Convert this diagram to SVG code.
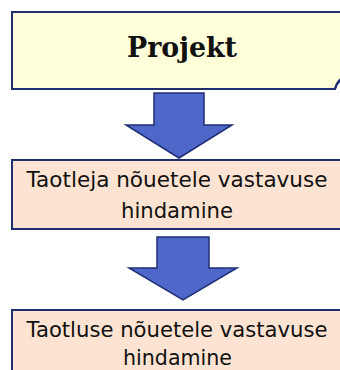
<svg xmlns="http://www.w3.org/2000/svg" width="340" height="370" viewBox="0 0 340 370">
<style>
.box{stroke:#1F2F6E;stroke-width:2}
.proc{fill:#FDE4D2}
.arrow{fill:#4F67C8;stroke:#1F2F75;stroke-width:1.5;stroke-linejoin:miter}
.t{font-family:"DejaVu Sans","Liberation Sans",sans-serif;font-size:21px;fill:#111;text-anchor:middle}
.h{font-family:"DejaVu Serif","Liberation Serif",serif;font-weight:bold;font-size:27px;fill:#111;text-anchor:middle}
</style>
<rect width="340" height="370" fill="#fff"/>
<g id="projekt">
<path class="box" d="M12,12 H342 V80 Q337,82 335,89 H12 Z" fill="#FFFFD9"/>
<path d="M335,89 Q337,81 342,78" fill="none" stroke="#1F2F6E" stroke-width="2"/>
<text class="h" x="182" y="57" textLength="110" lengthAdjust="spacingAndGlyphs">Projekt</text>
</g>
<g id="connectors">
<path class="arrow" d="M154,93 H204 V125 H232 L179,158 L126,125 H154 Z"/>
<path class="arrow" d="M157,237 H209 V268 H237 L183,300 L129,268 H157 Z"/>
</g>
<g id="taotleja">
<rect class="box proc" x="12" y="160" width="332" height="69"/>
<text class="t" x="177" y="187" textLength="301" lengthAdjust="spacingAndGlyphs">Taotleja nõuetele vastavuse</text>
<text class="t" x="177" y="218" textLength="112" lengthAdjust="spacingAndGlyphs">hindamine</text>
</g>
<g id="taotluse">
<rect class="box proc" x="12" y="310" width="332" height="70"/>
<text class="t" x="177" y="337" textLength="301" lengthAdjust="spacingAndGlyphs">Taotluse nõuetele vastavuse</text>
<text class="t" x="177.5" y="365" textLength="109" lengthAdjust="spacingAndGlyphs">hindamine</text>
</g>
</svg>
